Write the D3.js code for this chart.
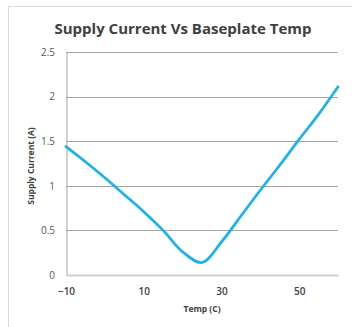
<!DOCTYPE html>
<html>
<head>
<meta charset="utf-8">
<script src="https://cdn.jsdelivr.net/npm/d3@7"></script>
<style>
  body { margin: 0; background: #fff; }
  text { font-family: "Open Sans", sans-serif; }
</style>
</head>
<body>
<div id="chart"></div>
<script>
// data
var temps    = [-10, -5, 0, 5, 10, 15, 20, 25, 30, 35, 40, 45, 50, 55, 60];
var currents = [1.44, 1.27, 1.09, 0.90, 0.71, 0.50, 0.26, 0.14, 0.37, 0.66, 0.95, 1.23, 1.52, 1.80, 2.11];
var xTicks = [-10, 10, 30, 50];
var yTicks = [0, 0.5, 1, 1.5, 2, 2.5];

var width = 352, height = 327;
var margin = { top: 52, right: 14, bottom: 52, left: 66 };
var w = width - margin.left - margin.right,
    h = height - margin.top - margin.bottom;

var svg = d3.select('#chart').append('svg')
  .attr('width', width)
  .attr('height', height);

// outer chart border (cut off on the right and bottom)
svg.append('rect')
  .attr('x', 8.5).attr('y', 6.5)
  .attr('width', 360).attr('height', 340)
  .attr('fill', 'none')
  .attr('stroke', '#d9d9d9');

var x = d3.scaleLinear().domain([-10, 60]).range([0, w]);
var y = d3.scaleLinear().domain([0, 2.5]).range([h, 0]);

var g = svg.append('g')
  .attr('transform', 'translate(' + margin.left + ',' + margin.top + ')');

// gridlines
g.append('g').selectAll('line')
  .data(yTicks.filter(function(d) { return d > 0; }))
  .enter().append('line')
    .attr('x1', 0).attr('x2', w)
    .attr('y1', function(d) { return Math.round(y(d)) + 0.5; })
    .attr('y2', function(d) { return Math.round(y(d)) + 0.5; })
    .attr('stroke', '#a6a6a6');

// y axis
var yAxis = d3.axisLeft(y).tickValues(yTicks).tickSize(0).tickPadding(11)
  .tickFormat(function(d) { return d; });
var gy = g.append('g').call(yAxis);
gy.select('.domain').attr('stroke', '#a6a6a6').attr('transform', 'translate(0.5,0)');
gy.selectAll('text')
  .attr('font-size', '10px').attr('fill', '#595959')
  .attr('font-family', '"Open Sans", sans-serif');

// x axis
var xAxis = d3.axisBottom(x).tickValues(xTicks).tickSize(0).tickPadding(13)
  .tickFormat(d3.format('d'));
var gx = g.append('g').attr('transform', 'translate(0,' + h + ')').call(xAxis);
gx.select('.domain').attr('stroke', '#d0d0d0').attr('stroke-width', 2);
gx.selectAll('text')
  .attr('font-size', '10px').attr('fill', '#404040').attr('font-weight', 600)
  .attr('font-family', '"Open Sans", sans-serif');

// the line
var line = d3.line()
  .x(function(d, i) { return x(temps[i]); })
  .y(function(d) { return y(d); })
  .curve(d3.curveCatmullRom.alpha(0.5));

g.append('path')
  .datum(currents)
  .attr('d', line)
  .attr('fill', 'none')
  .attr('stroke', '#1cb3ea')
  .attr('stroke-width', 2.75)
  .attr('stroke-linecap', 'round');

// titles
svg.append('text')
  .attr('x', 183).attr('y', 34)
  .attr('text-anchor', 'middle')
  .attr('font-size', '15px').attr('font-weight', 'bold')
  .attr('fill', '#404040')
  .text('Supply Current Vs Baseplate Temp');

svg.append('text')
  .attr('x', margin.left + w / 2).attr('y', 312)
  .attr('text-anchor', 'middle')
  .attr('font-size', '8.5px').attr('font-weight', 'bold')
  .attr('fill', '#404040')
  .text('Temp (C)');

svg.append('text')
  .attr('transform', 'translate(34,166) rotate(-90)')
  .attr('text-anchor', 'middle')
  .attr('font-size', '8.5px').attr('font-weight', 'bold')
  .attr('fill', '#404040')
  .text('Supply Current (A)');
</script>
</body>
</html>
